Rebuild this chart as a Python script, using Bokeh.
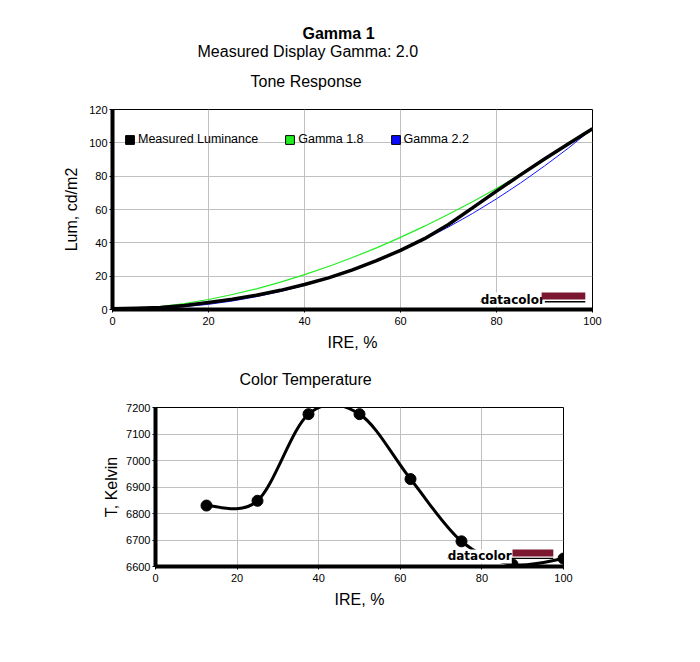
from bokeh.plotting import figure
from bokeh.models import (Title, Legend, LegendItem, Label, BoxAnnotation,
                          ColumnDataSource, FixedTicker, Range1d, Spacer)
from bokeh.layouts import column, row
from bokeh.embed import file_html
from bokeh.resources import INLINE

FONT = "Liberation Sans"

# ---------------- Tone response data ----------------
ire = [0, 5, 10, 15, 20, 25, 30, 35, 40, 45, 50, 55, 60, 65, 70, 75, 80, 85, 90, 95, 100]
measured_lum = [0.5, 0.7, 1.2, 2.4, 4.2, 6.2, 8.6, 11.5, 15.0, 19.0, 23.8, 29.3,
                35.5, 42.5, 51.0, 61.0, 71.0, 80.8, 90.3, 99.5, 108.5]
gamma18_lum = [0.0, 0.5, 1.7, 3.6, 6.0, 9.0, 12.4, 16.4, 20.9, 25.8, 31.2, 37.0,
               43.3, 50.0, 57.1, 64.6, 72.6, 81.0, 89.8, 98.9, 108.5]
gamma22_lum = [0.0, 0.2, 0.7, 1.7, 3.1, 5.1, 7.7, 10.8, 14.5, 18.7, 23.6, 29.1,
               35.3, 42.1, 49.5, 57.6, 66.4, 75.9, 86.1, 96.9, 108.5]
lum_ticks = [0, 20, 40, 60, 80, 100, 120]
ire_ticks = [0, 20, 40, 60, 80, 100]
series_names = ["Measured Luminance", "Gamma 1.8", "Gamma 2.2"]

# ---------------- Color temperature data ----------------
ire_ct = [12.5, 25, 37.5, 50, 62.5, 75, 87.5, 100]
temp_k = [6830, 6848, 7175, 7175, 6930, 6695, 6608, 6630]
temp_ticks = [6600, 6700, 6800, 6900, 7000, 7100, 7200]

GRID = "#c0c0c0"
LOGO_RED = "#7b1830"


def style(p, xlabel, ylabel, xticks, yticks, ylabel_standoff=6):
    p.background_fill_color = "white"
    p.border_fill_color = "white"
    p.outline_line_color = "black"
    p.outline_line_width = 1
    p.xaxis.axis_label = xlabel
    p.yaxis.axis_label = ylabel
    p.xaxis.ticker = FixedTicker(ticks=xticks)
    p.yaxis.ticker = FixedTicker(ticks=yticks)
    for ax in (p.xaxis[0], p.yaxis[0]):
        ax.axis_line_width = 4
        ax.axis_line_color = "black"
        ax.major_tick_out = 3
        ax.major_tick_in = 0
        ax.minor_tick_out = 0
        ax.minor_tick_in = 0
        ax.major_tick_line_color = "black"
        ax.major_label_text_font = FONT
        ax.major_label_text_font_size = "11px"
        ax.major_label_text_color = "black"
        ax.axis_label_text_font = FONT
        ax.axis_label_text_font_size = "16px"
        ax.axis_label_text_font_style = "normal"
        ax.axis_label_text_color = "black"
    p.xaxis.axis_label_standoff = 6
    p.yaxis.axis_label_standoff = ylabel_standoff
    p.yaxis.major_label_standoff = 2
    p.xaxis.major_label_standoff = 4
    p.xgrid.grid_line_color = GRID
    p.ygrid.grid_line_color = GRID
    p.xgrid.ticker = FixedTicker(ticks=xticks)
    p.ygrid.ticker = FixedTicker(ticks=yticks)


def add_title(p, text, offset, standoff, bold=False, valign="bottom"):
    p.add_layout(Title(text=text, text_font=FONT, text_font_size="16px",
                       text_font_style="bold" if bold else "normal", text_color="black",
                       align="left", offset=offset, standoff=standoff,
                       vertical_align=valign), "above")


def add_logo(p, tx, ty, bx0, bx1, by0, by1, uy0, uy1):
    p.add_layout(BoxAnnotation(left=tx, right=bx1, bottom=uy0, top=uy1,
                               fill_color="black", fill_alpha=1, line_color=None))
    p.add_layout(Label(x=tx, y=ty, text="datacolor", text_font="DejaVu Sans",
                       text_font_style="bold", text_font_size="12px", text_color="black",
                       text_baseline="alphabetic", background_fill_color="white",
                       background_fill_alpha=1))
    p.add_layout(BoxAnnotation(left=bx0, right=bx1, bottom=by0, top=by1,
                               fill_color=LOGO_RED, fill_alpha=1, line_color=None))


# ---------------- Top chart ----------------
p1 = figure(frame_width=480, frame_height=200, x_range=Range1d(0, 100), y_range=Range1d(0, 120),
            output_backend="svg", toolbar_location=None,
            min_border_left=112, min_border_right=40, min_border_top=109, min_border_bottom=0)
add_title(p1, "Tone Response", 138, 40)
add_title(p1, "Measured Display Gamma: 2.0", 85, -18)
add_title(p1, "Gamma 1", 190, 16, bold=True)
style(p1, "IRE, %", "Lum, cd/m2", ire_ticks, lum_ticks)

p1.line(ire, gamma18_lum, line_color="#22ee22", line_width=1.2)
p1.line(ire, gamma22_lum, line_color="#1515ff", line_width=1)
p1.line(ire, measured_lum, line_color="black", line_width=3.5, line_join="round")

# legend swatches: hidden proxy renderers so the legend can show filled squares
legend_colors = ["black", "#22ee22", "#0a0aff"]
legend_series = [measured_lum, gamma18_lum, gamma22_lum]
items = []
for name, col, vals in zip(series_names, legend_colors, legend_series):
    src = ColumnDataSource(data=dict(l=ire, r=ire, t=vals, b=[0] * len(vals)))
    r = p1.quad(left="l", right="r", top="t", bottom="b", source=src,
                fill_color=col, line_color="black", line_width=1, visible=False)
    items.append(LegendItem(label=name, renderers=[r]))
legend = Legend(items=items, orientation="horizontal", location=(12, 163),
                border_line_color=None, background_fill_alpha=0, padding=0, margin=0,
                spacing=26, glyph_width=11, glyph_height=11, label_standoff=3,
                label_text_font=FONT, label_text_font_size="12.5px", label_height=12,
                label_text_color="black")
p1.add_layout(legend)

add_logo(p1, 76.7, 6.0, 89.4, 98.5, 6.0, 10.2, 4.2, 5.1)

# ---------------- Bottom chart ----------------
p2 = figure(frame_width=408, frame_height=159, x_range=Range1d(0, 100), y_range=Range1d(6600, 7200),
            output_backend="svg", toolbar_location=None,
            min_border_left=112, min_border_right=40, min_border_top=0, min_border_bottom=10)
add_title(p2, "Color Temperature", 84, 35, valign="top")
style(p2, "IRE, %", "T, Kelvin", ire_ticks, temp_ticks, ylabel_standoff=3)

# smooth (Catmull-Rom) curve through the measured points, drawn as Bezier segments
n = len(ire_ct)
seg = dict(x0=[], y0=[], x1=[], y1=[], cx0=[], cy0=[], cx1=[], cy1=[])
for i in range(n - 1):
    xa, ya = ire_ct[i], temp_k[i]
    xb, yb = ire_ct[i + 1], temp_k[i + 1]
    xp, yp = (ire_ct[i - 1], temp_k[i - 1]) if i > 0 else (xa, ya)
    xn, yn = (ire_ct[i + 2], temp_k[i + 2]) if i + 2 < n else (xb, yb)
    seg["x0"].append(xa); seg["y0"].append(ya)
    seg["x1"].append(xb); seg["y1"].append(yb)
    seg["cx0"].append(xa + (xb - xp) / 6); seg["cy0"].append(ya + (yb - yp) / 6)
    seg["cx1"].append(xb - (xn - xa) / 6); seg["cy1"].append(yb - (yn - ya) / 6)
p2.bezier(x0="x0", y0="y0", x1="x1", y1="y1", cx0="cx0", cy0="cy0", cx1="cx1", cy1="cy1",
          source=ColumnDataSource(seg), line_color="black", line_width=3)
p2.scatter(ire_ct, temp_k, size=11, color="black")

add_logo(p2, 71.6, 6638, 87.5, 97.5, 6638, 6664, 6628, 6633)

layout = column(p1, row(Spacer(width=43), p2))
open("out.html", "w").write(file_html(layout, INLINE))
